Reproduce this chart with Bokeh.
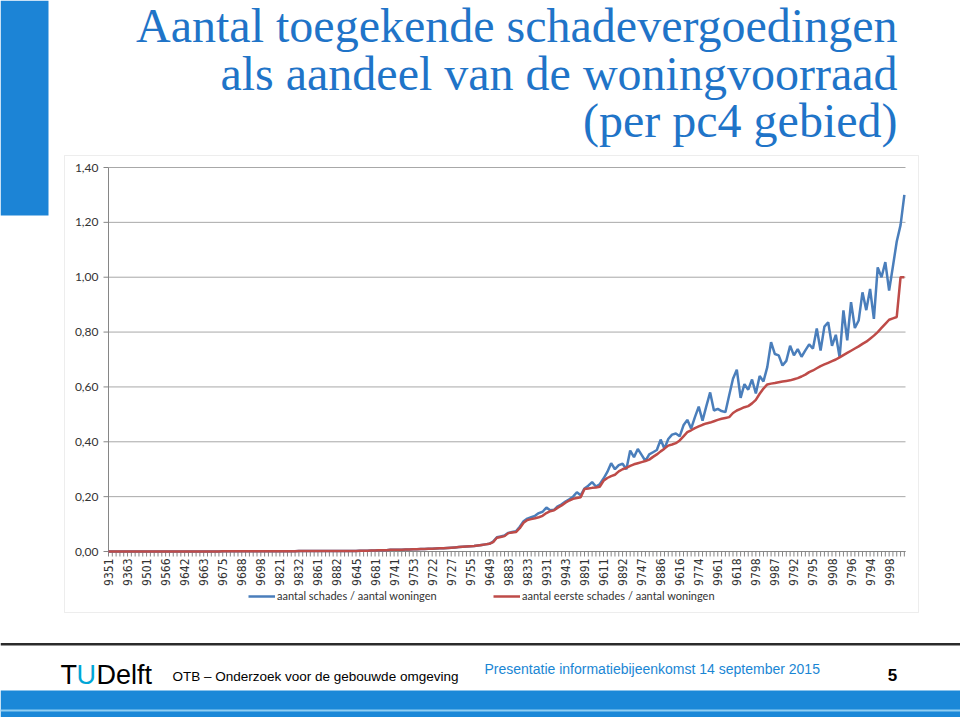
import math
from bokeh.plotting import figure
from bokeh.models import (Range1d, Label, BoxAnnotation, Legend, LegendItem, ColumnDataSource)
from bokeh.embed import file_html
from bokeh.resources import INLINE

# ---------------- data ----------------
postcode_labels = ["9351", "9363", "9501", "9566", "9642", "9663", "9675", "9688", "9698", "9821",
                   "9832", "9861", "9882", "9645", "9681", "9741", "9753", "9722", "9727", "9755",
                   "9649", "9883", "9833", "9931", "9943", "9891", "9611", "9892", "9747", "9886",
                   "9616", "9774", "9961", "9618", "9798", "9987", "9792", "9795", "9908", "9796",
                   "9794", "9998"]
label_step = 5

eerste_schades = [
    0.000, 0.000, 0.000, 0.000, 0.000, 0.000, 0.000, 0.000, 0.000, 0.000,
    0.000, 0.000, 0.000, 0.000, 0.000, 0.000, 0.000, 0.000, 0.000, 0.000,
    0.000, 0.000, 0.000, 0.000, 0.000, 0.000, 0.000, 0.000, 0.000, 0.000,
    0.001, 0.001, 0.001, 0.001, 0.001, 0.001, 0.001, 0.001, 0.001, 0.001,
    0.001, 0.001, 0.001, 0.001, 0.001, 0.001, 0.001, 0.001, 0.001, 0.001,
    0.002, 0.002, 0.002, 0.002, 0.002, 0.002, 0.002, 0.002, 0.002, 0.002,
    0.002, 0.002, 0.002, 0.002, 0.002, 0.002, 0.003, 0.003, 0.003, 0.004,
    0.004, 0.005, 0.005, 0.005, 0.006, 0.006, 0.006, 0.006, 0.007, 0.007,
    0.008, 0.008, 0.009, 0.009, 0.010, 0.010, 0.011, 0.012, 0.012, 0.013,
    0.014, 0.015, 0.016, 0.017, 0.018, 0.019, 0.020, 0.022, 0.024, 0.026,
    0.028, 0.034, 0.050, 0.053, 0.056, 0.067, 0.069, 0.071, 0.085, 0.105,
    0.115, 0.118, 0.121, 0.125, 0.130, 0.140, 0.147, 0.150, 0.160, 0.168,
    0.178, 0.186, 0.192, 0.195, 0.198, 0.228, 0.230, 0.232, 0.233, 0.236,
    0.258, 0.268, 0.275, 0.280, 0.292, 0.300, 0.305, 0.312, 0.318, 0.322,
    0.326, 0.330, 0.335, 0.345, 0.354, 0.365, 0.375, 0.386, 0.390, 0.395,
    0.405, 0.420, 0.435, 0.442, 0.450, 0.456, 0.462, 0.467, 0.470, 0.475,
    0.480, 0.484, 0.487, 0.490, 0.505, 0.514, 0.520, 0.526, 0.530, 0.540,
    0.553, 0.575, 0.594, 0.609, 0.612, 0.614, 0.617, 0.620, 0.622, 0.624,
    0.628, 0.632, 0.638, 0.645, 0.654, 0.660, 0.668, 0.676, 0.682, 0.688,
    0.694, 0.700, 0.708, 0.716, 0.724, 0.732, 0.740, 0.748, 0.757, 0.765,
    0.776, 0.787, 0.800, 0.815, 0.830, 0.845, 0.850, 0.855, 1.000, 1.000,
]

schades = [
    0.000, 0.000, 0.000, 0.000, 0.000, 0.000, 0.000, 0.000, 0.000, 0.000,
    0.000, 0.000, 0.000, 0.000, 0.000, 0.000, 0.000, 0.000, 0.000, 0.000,
    0.000, 0.000, 0.000, 0.000, 0.000, 0.000, 0.000, 0.000, 0.000, 0.000,
    0.001, 0.001, 0.001, 0.001, 0.001, 0.001, 0.001, 0.001, 0.001, 0.001,
    0.001, 0.001, 0.001, 0.001, 0.001, 0.001, 0.001, 0.001, 0.001, 0.001,
    0.002, 0.002, 0.002, 0.002, 0.002, 0.002, 0.002, 0.002, 0.002, 0.002,
    0.002, 0.002, 0.002, 0.002, 0.002, 0.002, 0.003, 0.003, 0.003, 0.004,
    0.004, 0.005, 0.005, 0.005, 0.006, 0.006, 0.006, 0.006, 0.007, 0.007,
    0.008, 0.008, 0.009, 0.009, 0.010, 0.010, 0.011, 0.012, 0.012, 0.013,
    0.014, 0.015, 0.016, 0.017, 0.018, 0.019, 0.020, 0.022, 0.024, 0.026,
    0.028, 0.036, 0.052, 0.055, 0.058, 0.068, 0.071, 0.074, 0.090, 0.110,
    0.120, 0.125, 0.130, 0.140, 0.145, 0.160, 0.150, 0.152, 0.165, 0.172,
    0.182, 0.190, 0.200, 0.216, 0.205, 0.230, 0.240, 0.253, 0.237, 0.245,
    0.266, 0.290, 0.322, 0.300, 0.315, 0.320, 0.300, 0.368, 0.344, 0.374,
    0.352, 0.330, 0.354, 0.362, 0.370, 0.408, 0.375, 0.410, 0.426, 0.430,
    0.420, 0.460, 0.480, 0.448, 0.490, 0.528, 0.477, 0.530, 0.580, 0.514,
    0.520, 0.512, 0.508, 0.570, 0.630, 0.663, 0.560, 0.610, 0.590, 0.627,
    0.576, 0.640, 0.620, 0.672, 0.763, 0.720, 0.715, 0.678, 0.695, 0.750,
    0.715, 0.738, 0.710, 0.733, 0.755, 0.740, 0.813, 0.733, 0.820, 0.836,
    0.750, 0.790, 0.708, 0.879, 0.770, 0.909, 0.815, 0.842, 0.945, 0.880,
    0.957, 0.848, 1.036, 1.000, 1.055, 0.951, 1.040, 1.130, 1.190, 1.300,
]

y_ticks = [0.0, 0.2, 0.4, 0.6, 0.8, 1.0, 1.2, 1.4]
y_tick_labels = ["0,00", "0,20", "0,40", "0,60", "0,80", "1,00", "1,20", "1,40"]

series_names = ["aantal schades / aantal woningen", "aantal eerste schades / aantal woningen"]

title_lines = ["Aantal toegekende schadevergoedingen",
               "als aandeel van de woningvoorraad",
               "(per pc4 gebied)"]

# ---------------- layout constants (slide pixels) ----------------
W, H = 960, 717
PA_L, PA_R, PA_T, PA_B = 108, 905, 167, 551     # chart plot area
X_MAX, Y_MAX = 209.3, 1.4                       # chart data extents
ppx = (PA_R - PA_L) / X_MAX
ppy = (PA_B - PA_T) / Y_MAX

n = len(schades)
idx = list(range(n))
src = ColumnDataSource(dict(i=idx, schades=schades, eerste=eerste_schades))

# frame = whole canvas; default ranges are slide pixels (y negative downwards)
p = figure(width=W, height=H, x_range=Range1d(0, W), y_range=Range1d(-H, 0),
           output_backend="svg", toolbar_location=None, min_border=0,
           x_axis_location=None, y_axis_location=None,
           outline_line_color=None, background_fill_color="white", border_fill_color="white")
p.xgrid.visible = False
p.ygrid.visible = False

# chart data ranges mapped onto the plot-area part of the canvas
p.extra_x_ranges = {"cx": Range1d(-PA_L / ppx, (W - PA_L) / ppx)}
p.extra_y_ranges = {"cy": Range1d(-(H - PA_B) / ppy, PA_B / ppy)}
C = dict(x_range_name="cx", y_range_name="cy")

AX = "#868686"
tick_x = 5 / ppx
tick_y = 5 / ppy

# gridlines
p.segment(x0=[0] * len(y_ticks), x1=[X_MAX] * len(y_ticks), y0=y_ticks, y1=y_ticks,
          line_color="#a8a8a8", line_width=1, **C)
# y axis
p.segment(x0=[0], x1=[0], y0=[0], y1=[Y_MAX], line_color=AX, line_width=1, **C)
p.segment(x0=[-tick_x] * len(y_ticks), x1=[0] * len(y_ticks), y0=y_ticks, y1=y_ticks,
          line_color=AX, line_width=1, **C)
p.text(x=[0] * len(y_ticks), y=y_ticks, text=y_tick_labels, x_offset=-10,
       text_align="right", text_baseline="middle", text_font={"value": "Lato"},
       text_font_size="12px", text_color="#333333", **C)
# x axis
p.segment(x0=[0], x1=[X_MAX], y0=[0], y1=[0], line_color=AX, line_width=1, **C)
p.segment(x0=idx, x1=idx, y0=[0] * n, y1=[-tick_y] * n, line_color=AX, line_width=1, **C)
label_pos = [k * label_step for k in range(len(postcode_labels))]
p.text(x=label_pos, y=[0] * len(label_pos), text=postcode_labels, y_offset=7,
       angle=math.pi / 2, text_align="right", text_baseline="middle",
       text_font={"value": "'Liberation Sans Narrow', 'DejaVu Sans Condensed', sans-serif"},
       text_font_size="12px", text_color="#333333", **C)

# series
rb = p.line("i", "schades", source=src, line_color="#4a7ebb", line_width=2.5, **C)
rr = p.line("i", "eerste", source=src, line_color="#be4b48", line_width=2.5, **C)

legend = Legend(items=[LegendItem(label=series_names[0], renderers=[rb]),
                       LegendItem(label=series_names[1], renderers=[rr])],
                orientation="horizontal", location=(248, H - 602),
                glyph_width=27, glyph_height=12, label_standoff=2, label_width=210,
                spacing=6, padding=0, margin=0, border_line_color=None,
                background_fill_alpha=0, label_text_font="Lato",
                label_text_font_size="11px", label_text_color="#333333",
                label_height=12)
p.add_layout(legend, "center")

def box(l, r, t, b, color, line=None):
    p.add_layout(BoxAnnotation(left=l, right=r, top=-t, bottom=-b,
                               fill_color=color if color else "white",
                               fill_alpha=1 if color else 0,
                               line_color=line, line_width=1, level="underlay"))

# slide decorations
box(0, 48, 0, 215, "#1c84d6")
box(64, 918, 155, 612, None, "#c4c4c4")
box(0, 960, 642.5, 645, "#2b2b2b")
box(0, 960, 690, 717, "#1b88d8")
box(0, 960, 709, 711, "#8fcdf2")

def label(x, y, text, size, color="#000000", font="'Liberation Sans', Arial, sans-serif",
          align="left", style="normal"):
    p.add_layout(Label(x=x, y=-y, text=text,
                       text_font=font, text_font_size=size, text_color=color,
                       text_align=align, text_baseline="alphabetic", text_font_style=style))

title_color = "#1f74c8"
for line_text, base in zip(title_lines, [25, 73, 120]):
    label(897, base, line_text, "48px", title_color,
          font="'Liberation Serif', 'Times New Roman', serif", align="right")

label(60, 674, "T", "27px")
label(76, 674, "U", "27px", "#00a6d6")
label(96, 674, "Delft", "27px")
label(172, 676, "OTB \u2013 Onderzoek voor de gebouwde omgeving", "13.5px")
label(484, 668, "Presentatie informatiebijeenkomst 14 september 2015", "14px", "#1a86d4")
label(892, 674, "5", "17px", align="center", style="bold")

open("out.html", "w").write(file_html(p, INLINE))
